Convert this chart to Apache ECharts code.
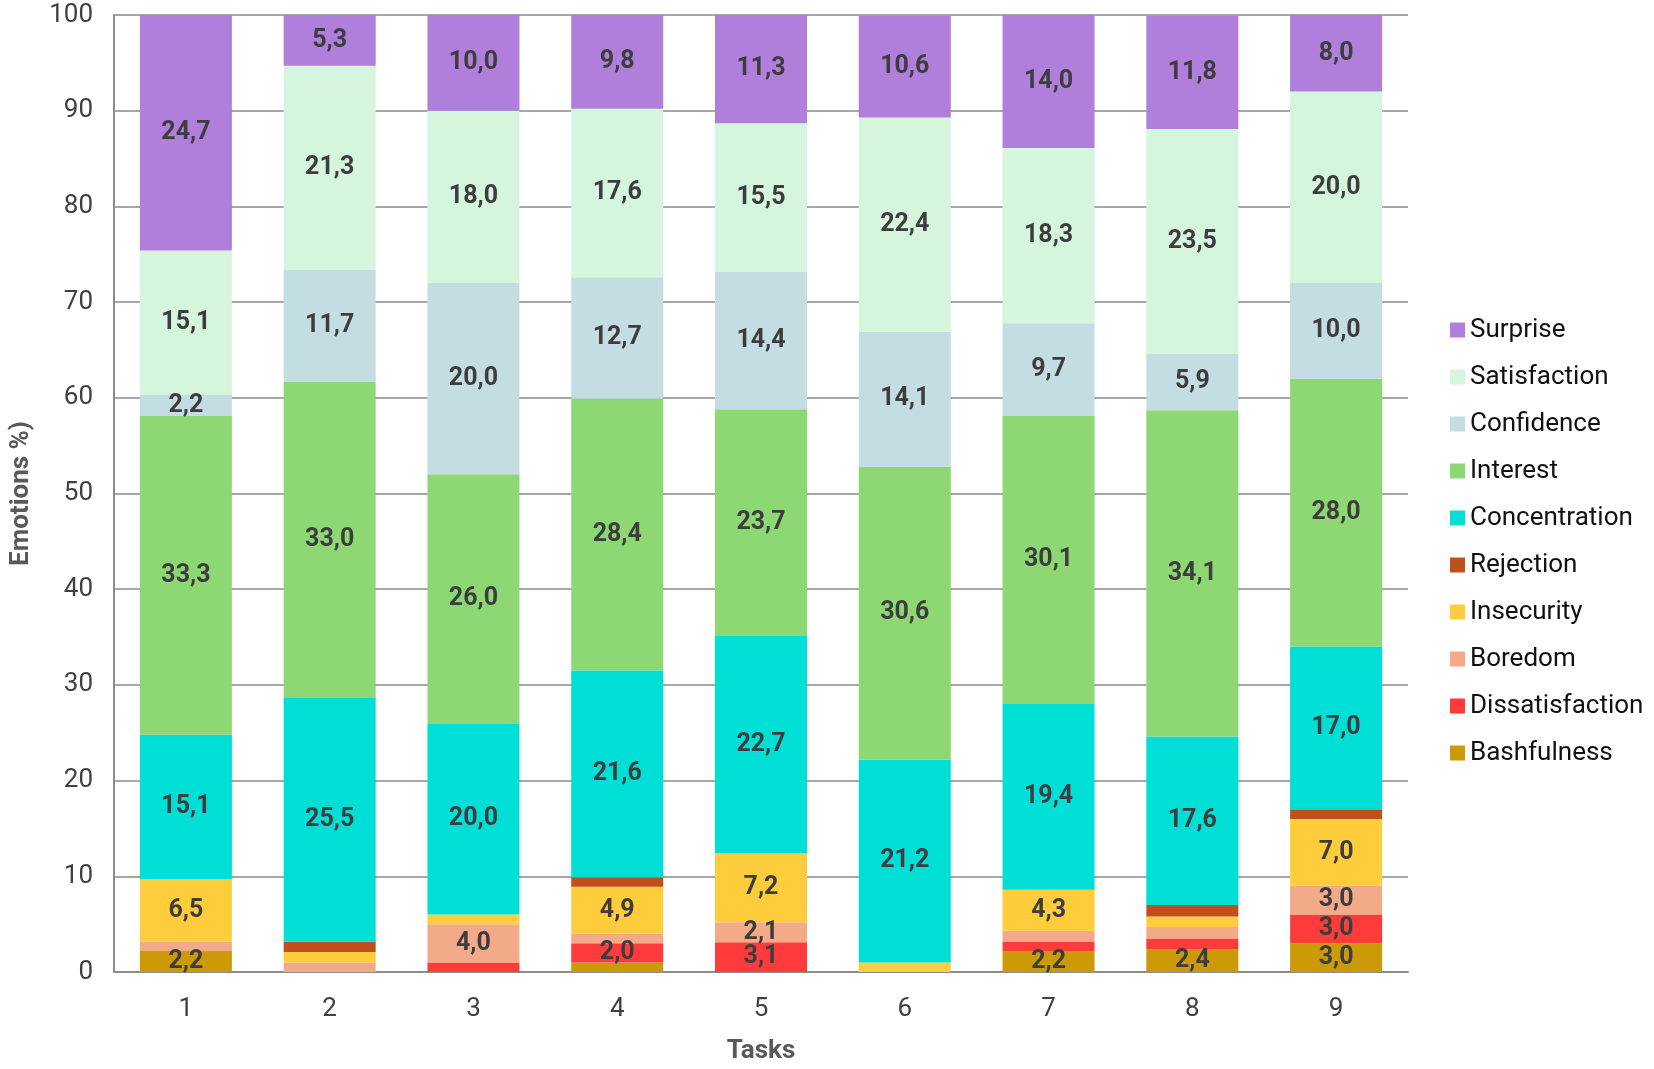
<!DOCTYPE html>
<html lang="en">
<head>
    <meta charset="UTF-8">
    <title>Emotions per task</title>
    <script src="https://cdn.jsdelivr.net/npm/echarts@6/dist/echarts.min.js"></script>
    <style>
        html, body { margin: 0; padding: 0; background: #fff; }
        #chart { width: 1654px; height: 1069px; }
    </style>
</head>
<body>
<div id="chart"></div>
<script>
    // tasks on the x axis
    let tasks = ['1', '2', '3', '4', '5', '6', '7', '8', '9'];

    // one array per emotion, bottom of stack first
    let bashfulness     = [2.2, 0,   0,   1.0, 0,   0,   2.2, 2.4, 3.0];
    let dissatisfaction = [0,   0,   1.0, 2.0, 3.1, 0,   1.0, 1.1, 3.0];
    let boredom         = [1.0, 1.0, 4.0, 1.0, 2.1, 0,   1.1, 1.2, 3.0];
    let insecurity      = [6.5, 1.1, 1.0, 4.9, 7.2, 1.0, 4.3, 1.1, 7.0];
    let rejection       = [0,   1.1, 0,   1.0, 0,   0,   0,   1.2, 1.0];
    let concentration   = [15.1, 25.5, 20.0, 21.6, 22.7, 21.2, 19.4, 17.6, 17.0];
    let interest        = [33.3, 33.0, 26.0, 28.4, 23.7, 30.6, 30.1, 34.1, 28.0];
    let confidence      = [2.2, 11.7, 20.0, 12.7, 14.4, 14.1, 9.7, 5.9, 10.0];
    let satisfaction    = [15.1, 21.3, 18.0, 17.6, 15.5, 22.4, 18.3, 23.5, 20.0];
    let surprise        = [24.7, 5.3, 10.0, 9.8, 11.3, 10.6, 14.0, 11.8, 8.0];

    let yTicks = [0, 10, 20, 30, 40, 50, 60, 70, 80, 90, 100];

    let stackOrder = [
        ['Bashfulness', bashfulness, '#CC9A06'],
        ['Dissatisfaction', dissatisfaction, '#FF3B3B'],
        ['Boredom', boredom, '#F2AA88'],
        ['Insecurity', insecurity, '#FFCD3C'],
        ['Rejection', rejection, '#C0501A'],
        ['Concentration', concentration, '#00DFD6'],
        ['Interest', interest, '#8ED873'],
        ['Confidence', confidence, '#C3DDE2'],
        ['Satisfaction', satisfaction, '#D5F5DC'],
        ['Surprise', surprise, '#B07FDB']
    ];

    let series = stackOrder.map(function (s) {
        return {
            name: s[0],
            type: 'bar',
            stack: 'all',
            barWidth: '64%',
            data: s[1],
            itemStyle: { color: s[2] },
            label: {
                show: true,
                position: 'inside',
                fontFamily: 'Roboto',
                fontWeight: 'bold',
                fontSize: 25,
                color: '#3d3d3d',
                formatter: function (p) {
                    if (p.value < 2) return '';
                    return p.value.toFixed(1).replace('.', ',');
                }
            }
        };
    });

    let chart = echarts.init(document.getElementById('chart'));
    chart.setOption({
        animation: false,
        textStyle: { fontFamily: 'Roboto' },
        grid: {
            left: 111,
            top: 15,
            width: 1297,
            bottom: 93,
            containLabel: false
        },
        legend: {
            orient: 'vertical',
            left: 1445,
            top: 312,
            itemWidth: 15,
            itemHeight: 15,
            itemGap: 21,
            icon: 'rect',
            data: stackOrder.map(function (s) { return s[0]; }).reverse(),
            textStyle: { fontSize: 26, color: '#111', fontFamily: 'Roboto' }
        },
        xAxis: {
            type: 'category',
            data: tasks,
            name: 'Tasks',
            nameLocation: 'middle',
            nameGap: 66,
            nameTextStyle: { fontSize: 26, fontWeight: 'bold', color: '#595959' },
            axisLine: { lineStyle: { color: '#8c8c8c', width: 2 } },
            axisTick: { show: false },
            axisLabel: { fontSize: 26, color: '#404040', margin: 24 }
        },
        yAxis: {
            type: 'value',
            min: yTicks[0],
            max: yTicks[yTicks.length - 1],
            interval: 10,
            name: 'Emotions %)',
            nameLocation: 'middle',
            nameGap: 80,
            nameTextStyle: { fontSize: 26, fontWeight: 'bold', color: '#595959' },
            axisLine: { show: true, lineStyle: { color: '#8c8c8c', width: 2 } },
            axisTick: { show: false },
            axisLabel: { fontSize: 26, color: '#404040', margin: 21 },
            splitLine: { lineStyle: { color: '#a6a6a6', width: 2 } }
        },
        series: series
    });
</script>
</body>
</html>
